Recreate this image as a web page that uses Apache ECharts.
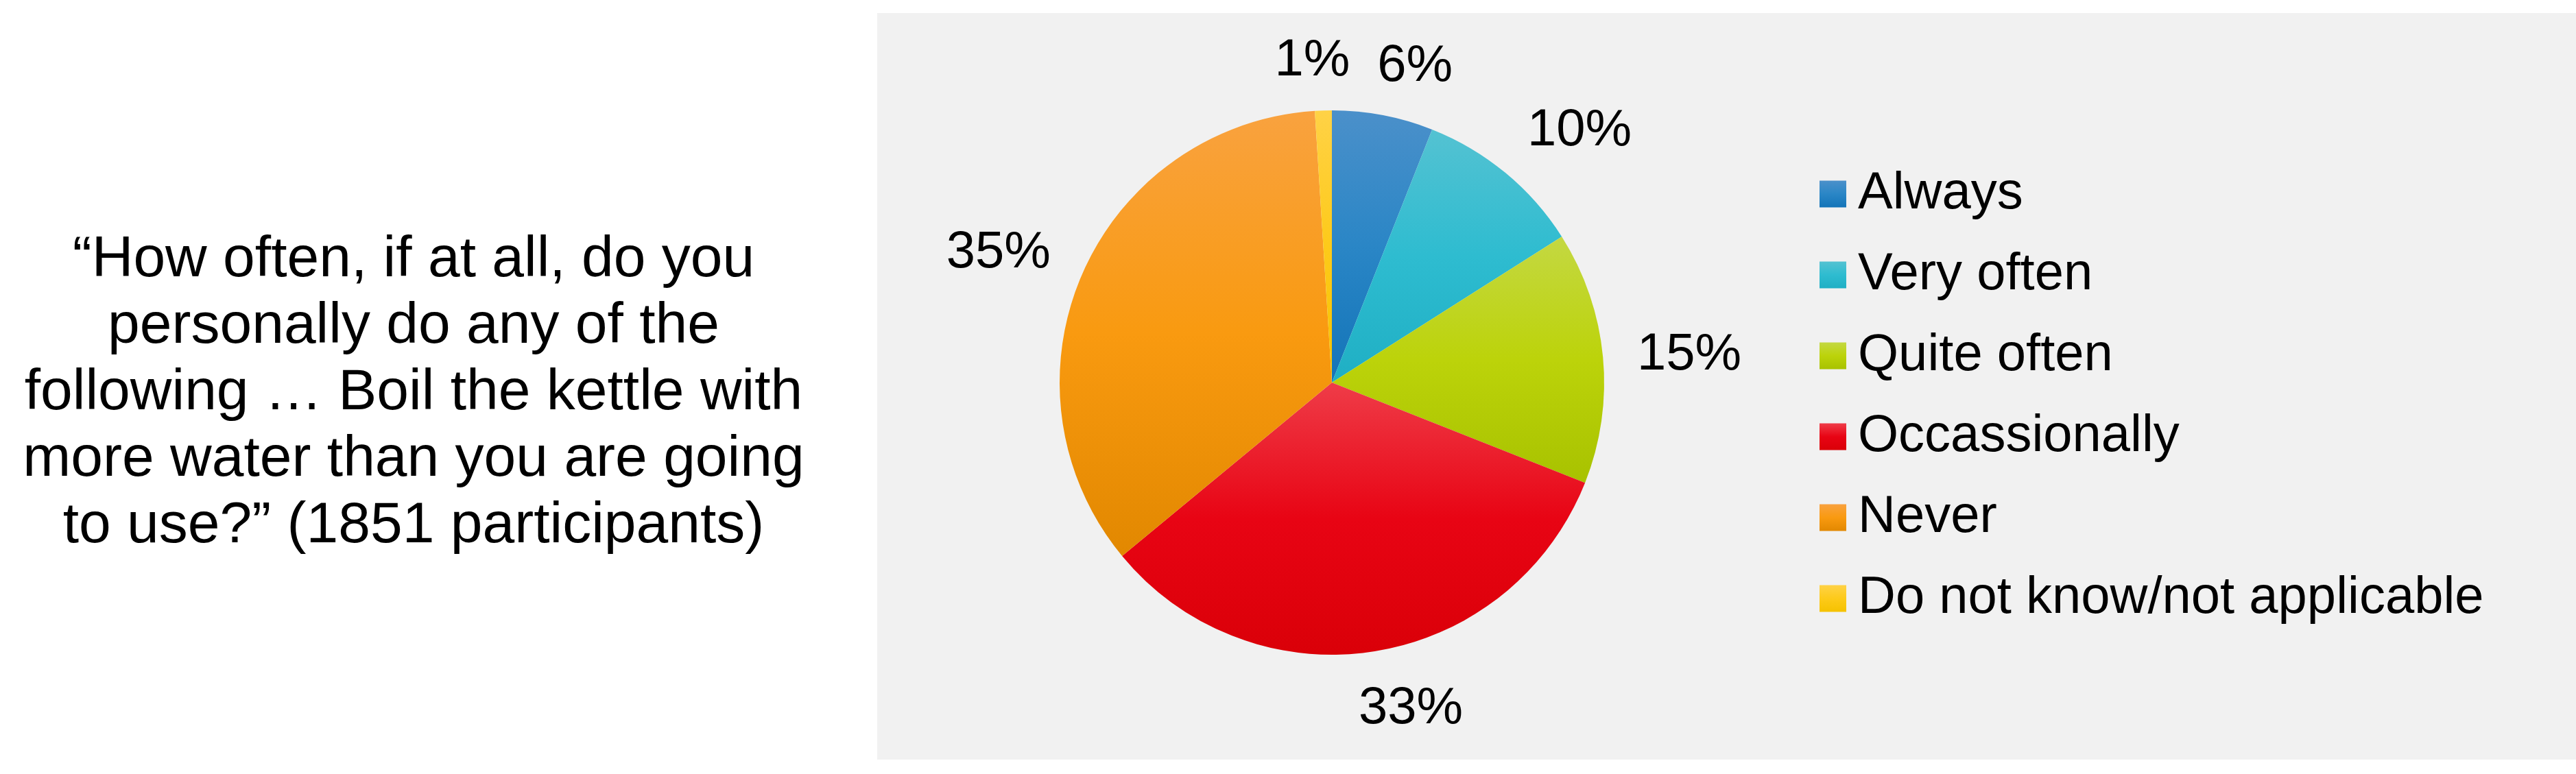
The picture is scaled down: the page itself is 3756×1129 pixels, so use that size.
<!DOCTYPE html>
<html>
<head>
<meta charset="utf-8">
<script src="https://cdn.jsdelivr.net/npm/echarts@6/dist/echarts.min.js"></script>
<style>
  html, body { margin: 0; padding: 0; background: #ffffff; }
  #chart { width: 3756px; height: 1129px; }
</style>
</head>
<body>
<div id="chart"></div>
<script>
// Survey answers (percent of 1851 participants)
const categories = ['Always', 'Very often', 'Quite often', 'Occassionally', 'Never', 'Do not know/not applicable']
const shares = [6, 10, 15, 33, 35, 1]

// top -> middle -> bottom gradient stops for each slice
const sliceColors = [
  ['#4b90ca', '#2a86c6', '#1374b8'],
  ['#54c2d2', '#2ebcd0', '#1fafc4'],
  ['#c4d842', '#bcd30a', '#a8c200'],
  ['#ef3c48', '#e80414', '#da0008'],
  ['#f9a23f', '#f99a10', '#e28800'],
  ['#ffd246', '#fdca1a', '#f5c200']
]

const question = [
  '\u201cHow often, if at all, do you',
  'personally do any of the',
  'following \u2026 Boil the kettle with',
  'more water than you are going',
  'to use?\u201d (1851 participants)'
]

const FONT = "'Liberation Sans', Arial, Helvetica, sans-serif"
const LABEL_SIZE = 76
const CX = 1942, CY = 558, R = 397
const ANCHOR_GAP = 50   // anchor point distance beyond the rim
const MIN_SPACE = 40    // smallest horizontal room between two labels

const total = shares.reduce((a, b) => a + b, 0)
const before = shares.map((v, i) => shares.slice(0, i).reduce((a, b) => a + b, 0))

function gradient(stops) {
  return new echarts.graphic.LinearGradient(0, 0, 0, 1, [
    { offset: 0, color: stops[0] },
    { offset: 0.5, color: stops[1] },
    { offset: 1, color: stops[2] }
  ])
}

// Office-like outside-end labels: an anchor on the mid angle, box hung off it
function labelCentres() {
  const ctx = document.createElement('canvas').getContext('2d')
  ctx.font = LABEL_SIZE + 'px ' + FONT
  const hh = LABEL_SIZE * 0.37
  const clamp = t => Math.max(-1, Math.min(1, t))
  const boxes = shares.map((v, i) => {
    const mid = (before[i] + v / 2) / total * Math.PI * 2
    const dx = Math.sin(mid), dy = -Math.cos(mid)
    const hw = ctx.measureText(v + '%').width / 2
    const ax = CX + dx * (R + ANCHOR_GAP)
    const ay = CY + dy * (R + ANCHOR_GAP)
    const kx = clamp(Math.sign(dx) * Math.sqrt(Math.abs(dx)) * 1.5)
    const ky = clamp(dy * 1.6)
    return { x: ax + hw * kx, y: ay + hh * ky + 6, hw: hw }
  })
  // nudge apart labels that crowd each other
  for (let a = 0; a < boxes.length; a++) {
    for (let b = 0; b < boxes.length; b++) {
      if (a === b) continue
      const L = boxes[a], Rt = boxes[b]
      if (L.x > Rt.x || Math.abs(L.y - Rt.y) > 2 * hh) continue
      const need = (L.x + L.hw + MIN_SPACE) - (Rt.x - Rt.hw)
      if (need > 0) Rt.x += need
    }
  }
  return boxes
}
const labelPos = labelCentres()

const chart = echarts.init(document.getElementById('chart'), null, { renderer: 'canvas' })

chart.setOption({
  backgroundColor: '#ffffff',
  animation: false,
  graphic: [
    {
      type: 'rect',
      z: -10,
      shape: { x: 1279, y: 19, width: 3756 - 1279, height: 1089 },
      style: { fill: '#f1f1f1' }
    },
    {
      type: 'text',
      x: 603,
      y: 574,
      style: {
        text: question.join('\n'),
        font: '84px ' + FONT,
        lineHeight: 97,
        fill: '#000000',
        align: 'center',
        verticalAlign: 'middle'
      }
    }
  ],
  legend: {
    orient: 'vertical',
    left: 2648,
    top: 240,
    icon: 'rect',
    itemWidth: 39,
    itemHeight: 39,
    itemGap: 42,
    data: categories,
    textStyle: {
      fontFamily: FONT,
      fontSize: 76,
      color: '#000000',
      padding: [0, 0, 0, 12]
    }
  },
  series: [{
    type: 'pie',
    center: [CX, CY],
    radius: R,
    startAngle: 90,
    clockwise: true,
    avoidLabelOverlap: false,
    labelLine: { show: false },
    label: {
      show: true,
      position: 'outside',
      formatter: p => p.value + '%',
      fontFamily: FONT,
      fontSize: LABEL_SIZE,
      color: '#000000'
    },
    labelLayout: function (params) {
      const p = labelPos[params.dataIndex]
      return { x: p.x, y: p.y, align: 'center', verticalAlign: 'middle' }
    },
    emphasis: { disabled: true },
    data: categories.map((name, i) => ({
      name: name,
      value: shares[i],
      itemStyle: { color: gradient(sliceColors[i]) }
    }))
  }]
})
</script>
</body>
</html>
